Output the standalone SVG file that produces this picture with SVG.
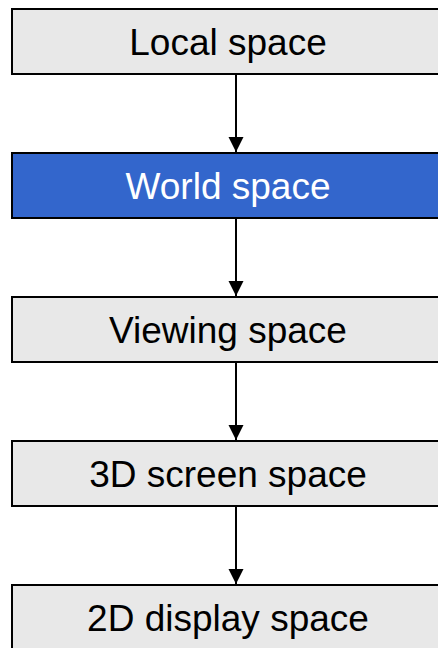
<svg xmlns="http://www.w3.org/2000/svg" width="438" height="648" viewBox="0 0 438 648">
<defs>
<style>
.box{fill:#e8e8e8;stroke:#000;stroke-width:2}
.hl{fill:#3366cc;stroke:#000;stroke-width:2}
.t{font-family:"Liberation Sans",Arial,sans-serif;font-size:37px;text-anchor:middle;fill:#000}
.tw{fill:#fff}
.c{stroke:#000;stroke-width:2;fill:none;marker-end:url(#ah)}
</style>
<marker id="ah" markerWidth="16" markerHeight="16" refX="15" refY="7.5" orient="auto" markerUnits="userSpaceOnUse">
<path d="M0,0 L15,7.5 L0,15 Z" fill="#000"/>
</marker>
</defs>
<rect width="438" height="648" fill="#fff"/>
<g id="connectors">
<line class="c" x1="236" y1="75" x2="236" y2="152"/>
<line class="c" x1="236" y1="219" x2="236" y2="296"/>
<line class="c" x1="236" y1="363" x2="236" y2="440"/>
<line class="c" x1="236" y1="507" x2="236" y2="584"/>
</g>
<g id="local"><rect class="box" x="12" y="9" width="432" height="65"/><text class="t" x="228" y="55">Local space</text></g>
<g id="world"><rect class="hl" x="12" y="153" width="432" height="65"/><text class="t tw" x="228" y="199">World space</text></g>
<g id="viewing"><rect class="box" x="12" y="297" width="432" height="65"/><text class="t" x="228" y="343">Viewing space</text></g>
<g id="screen3d"><rect class="box" x="12" y="441" width="432" height="65"/><text class="t" x="228" y="487">3D screen space</text></g>
<g id="display2d"><rect class="box" x="12" y="585" width="432" height="65"/><text class="t" x="228" y="631">2D display space</text></g>
</svg>
